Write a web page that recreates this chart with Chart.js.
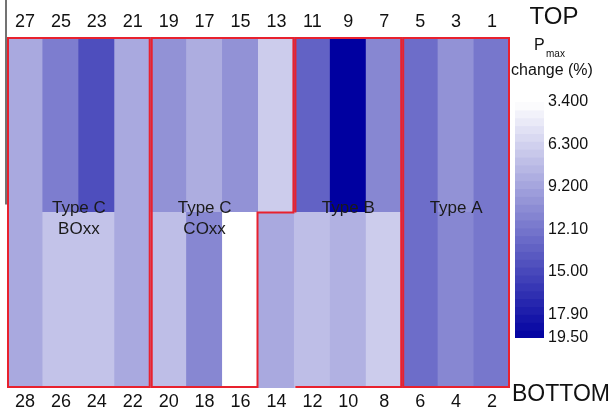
<!DOCTYPE html>
<html>
<head>
<meta charset="utf-8">
<script src="https://cdn.jsdelivr.net/npm/chart.js@4.4.1/dist/chart.umd.min.js"></script>
<style>
  html, body { margin: 0; padding: 0; background: #fff; }
  #wrap { position: relative; width: 613px; height: 412px; }
  #wrap canvas { position: absolute; top: 0; }
</style>
</head>
<body>
<div id="wrap">
  <canvas id="heat" width="613" height="412" style="left:0"></canvas>
  <canvas id="bar" width="103" height="412" style="left:510px"></canvas>
</div>
<script>
// Numéros des cellules (de gauche à droite)
const topLabels = ['27', '25', '23', '21', '19', '17', '15', '13', '11', '9', '7', '5', '3', '1'];
const bottomLabels = ['28', '26', '24', '22', '20', '18', '16', '14', '12', '10', '8', '6', '4', '2'];

// Pmax change (%) par cellule
const topValues = [8.8, 11.6, 14.6, 8.8, 10.3, 8.6, 10.3, 6.6, 13.3, 19.5, 11.0, 12.6, 10.3, 12.0];
const bottomValues = [8.8, 7.2, 7.2, 8.8, 7.5, 11.0, 3.4, 8.8, 7.5, 8.3, 6.6, 12.6, 11.0, 12.0];

// Echelle de couleur
const scaleMin = 3.4;
const scaleMax = 19.5;
const scaleTicks = [3.4, 6.3, 9.2, 12.1, 15.0, 17.9, 19.5];
const scaleTickLabels = ['3.400', '6.300', '9.200', '12.10', '15.00', '17.90', '19.50'];

// Groupes encadrés en rouge (index de colonnes)
const groupFrom = [0, 4, 8, 11];
const groupToTop = [3, 7, 10, 13];
const groupToBottom = [3, 6, 10, 13];
const groupOpenLeft = [false, false, true, false];
const groupText = [['Type C', 'BOxx'], ['Type C', 'COxx'], ['Type B'], ['Type A']];
const groupTextAt = [1.5, 5, 9, 12];

const FONT = "'Liberation Sans', Arial, sans-serif";

function pmaxColor(v) {
    const t = Math.max(0, Math.min(1, (v - scaleMin) / (scaleMax - scaleMin)));
    const r = Math.round(255 * (1 - t));
    const b = Math.round(255 - 95 * t);
    return `rgb(${r}, ${r}, ${b})`;
}

// Cadres rouges, textes et titres
const overlayPlugin = {
    id: 'overlay',
    afterDatasetsDraw(chart) {
        const ctx = chart.ctx;
        const x = chart.scales.x;
        const y = chart.scales.y;
        const w = (x.right - x.left) / bottomLabels.length;
        const left = i => x.getPixelForValue(i) - w / 2;
        const right = i => x.getPixelForValue(i) + w / 2;
        const yTop = y.getPixelForValue(2);
        const yMid = y.getPixelForValue(1);
        const yBot = y.getPixelForValue(0);

        ctx.save();
        // ligne d'axe à gauche
        ctx.strokeStyle = '#444';
        ctx.lineWidth = 1.5;
        ctx.beginPath();
        ctx.moveTo(x.left - 1, 0);
        ctx.lineTo(x.left - 1, yMid - 8);
        ctx.stroke();

        ctx.strokeStyle = '#e8212e';
        ctx.lineWidth = 2;
        for (let g = 0; g < groupFrom.length; g++) {
            const l = left(groupFrom[g]) + 1;
            const rt = right(groupToTop[g]) - 1;
            const rb = right(groupToBottom[g]) - 1;
            ctx.beginPath();
            ctx.moveTo(l, yMid);
            ctx.lineTo(l, yTop + 1);
            ctx.lineTo(rt, yTop + 1);
            ctx.lineTo(rt, yMid);
            ctx.lineTo(rb, yMid);
            ctx.lineTo(rb, yBot - 1);
            ctx.lineTo(l, yBot - 1);
            if (!groupOpenLeft[g]) ctx.closePath();
            ctx.stroke();
        }

        ctx.fillStyle = '#1a1a1a';
        ctx.font = `17px ${FONT}`;
        ctx.textAlign = 'center';
        ctx.textBaseline = 'middle';
        for (let g = 0; g < groupText.length; g++) {
            const cx = x.getPixelForValue(groupTextAt[g]);
            groupText[g].forEach((line, k) => {
                ctx.fillText(line, cx, y.getPixelForValue(k === 0 ? 1.025 : 0.903));
            });
        }

        ctx.fillStyle = '#111';
        ctx.font = `24px ${FONT}`;
        ctx.fillText('TOP', 554, 17);
        ctx.font = `23px ${FONT}`;
        ctx.fillText('BOTTOM', 561, 395);
        ctx.font = `16px ${FONT}`;
        ctx.fillText('change (%)', 552, 71);
        ctx.textAlign = 'left';
        ctx.fillText('P', 534, 46);
        ctx.font = `10px ${FONT}`;
        ctx.fillText('max', 546, 54);
        ctx.restore();
    }
};

const heatChart = new Chart(document.getElementById('heat'), {
    type: 'bar',
    data: {
        labels: bottomLabels,
        datasets: [{
            label: 'Bottom',
            data: bottomValues.map(() => [0, 1]),
            backgroundColor: bottomValues.map(pmaxColor)
        }, {
            label: 'Top',
            data: topValues.map(() => [1, 2]),
            backgroundColor: topValues.map(pmaxColor)
        }]
    },
    options: {
        responsive: false,
        animation: false,
        layout: { padding: { left: 7, right: 103, top: 0, bottom: 0 } },
        datasets: {
            bar: {
                barPercentage: 1,
                categoryPercentage: 1,
                grouped: false,
                borderWidth: 0,
                inflateAmount: 0.5
            }
        },
        plugins: {
            legend: { display: false },
            tooltip: { enabled: false }
        },
        scales: {
            x: {
                position: 'bottom',
                grid: { display: false, drawTicks: false },
                border: { display: false },
                ticks: {
                    color: '#111',
                    font: { family: FONT, size: 18 },
                    padding: 3,
                    maxRotation: 0,
                    autoSkip: false
                },
                afterFit: s => { s.height = 24; }
            },
            xTop: {
                type: 'category',
                position: 'top',
                labels: topLabels,
                offset: true,
                grid: { display: false, drawTicks: false },
                border: { display: false },
                ticks: {
                    color: '#111',
                    font: { family: FONT, size: 18 },
                    padding: 4,
                    maxRotation: 0,
                    autoSkip: false
                },
                afterFit: s => { s.height = 37; }
            },
            y: {
                display: false,
                min: 0,
                max: 2
            }
        }
    },
    plugins: [overlayPlugin]
});

// Barre de couleur
const bandCount = 30;
const bandDatasets = [];
for (let i = 0; i < bandCount; i++) {
    const lo = scaleMin + (scaleMax - scaleMin) * i / bandCount;
    const hi = scaleMin + (scaleMax - scaleMin) * (i + 1) / bandCount;
    bandDatasets.push({
        data: [[lo, hi]],
        backgroundColor: pmaxColor((lo + hi) / 2)
    });
}

const colorBar = new Chart(document.getElementById('bar'), {
    type: 'bar',
    data: {
        labels: [''],
        datasets: bandDatasets
    },
    options: {
        responsive: false,
        animation: false,
        layout: { padding: { left: 5, right: 0, top: 102, bottom: 74 } },
        datasets: {
            bar: {
                barPercentage: 1,
                categoryPercentage: 1,
                grouped: false,
                borderWidth: 0,
                inflateAmount: 0.5
            }
        },
        plugins: {
            legend: { display: false },
            tooltip: { enabled: false }
        },
        scales: {
            x: { display: false },
            y: {
                position: 'right',
                reverse: true,
                min: scaleMin,
                max: scaleMax,
                grid: { display: false, drawTicks: false },
                border: { display: false },
                afterBuildTicks: s => { s.ticks = scaleTicks.map(v => ({ value: v })); },
                ticks: {
                    color: '#111',
                    font: { family: FONT, size: 16 },
                    padding: 4,
                    autoSkip: false,
                    callback: (v, i) => scaleTickLabels[i]
                },
                afterFit: s => { s.width = 69; }
            }
        }
    }
});
</script>
</body>
</html>
